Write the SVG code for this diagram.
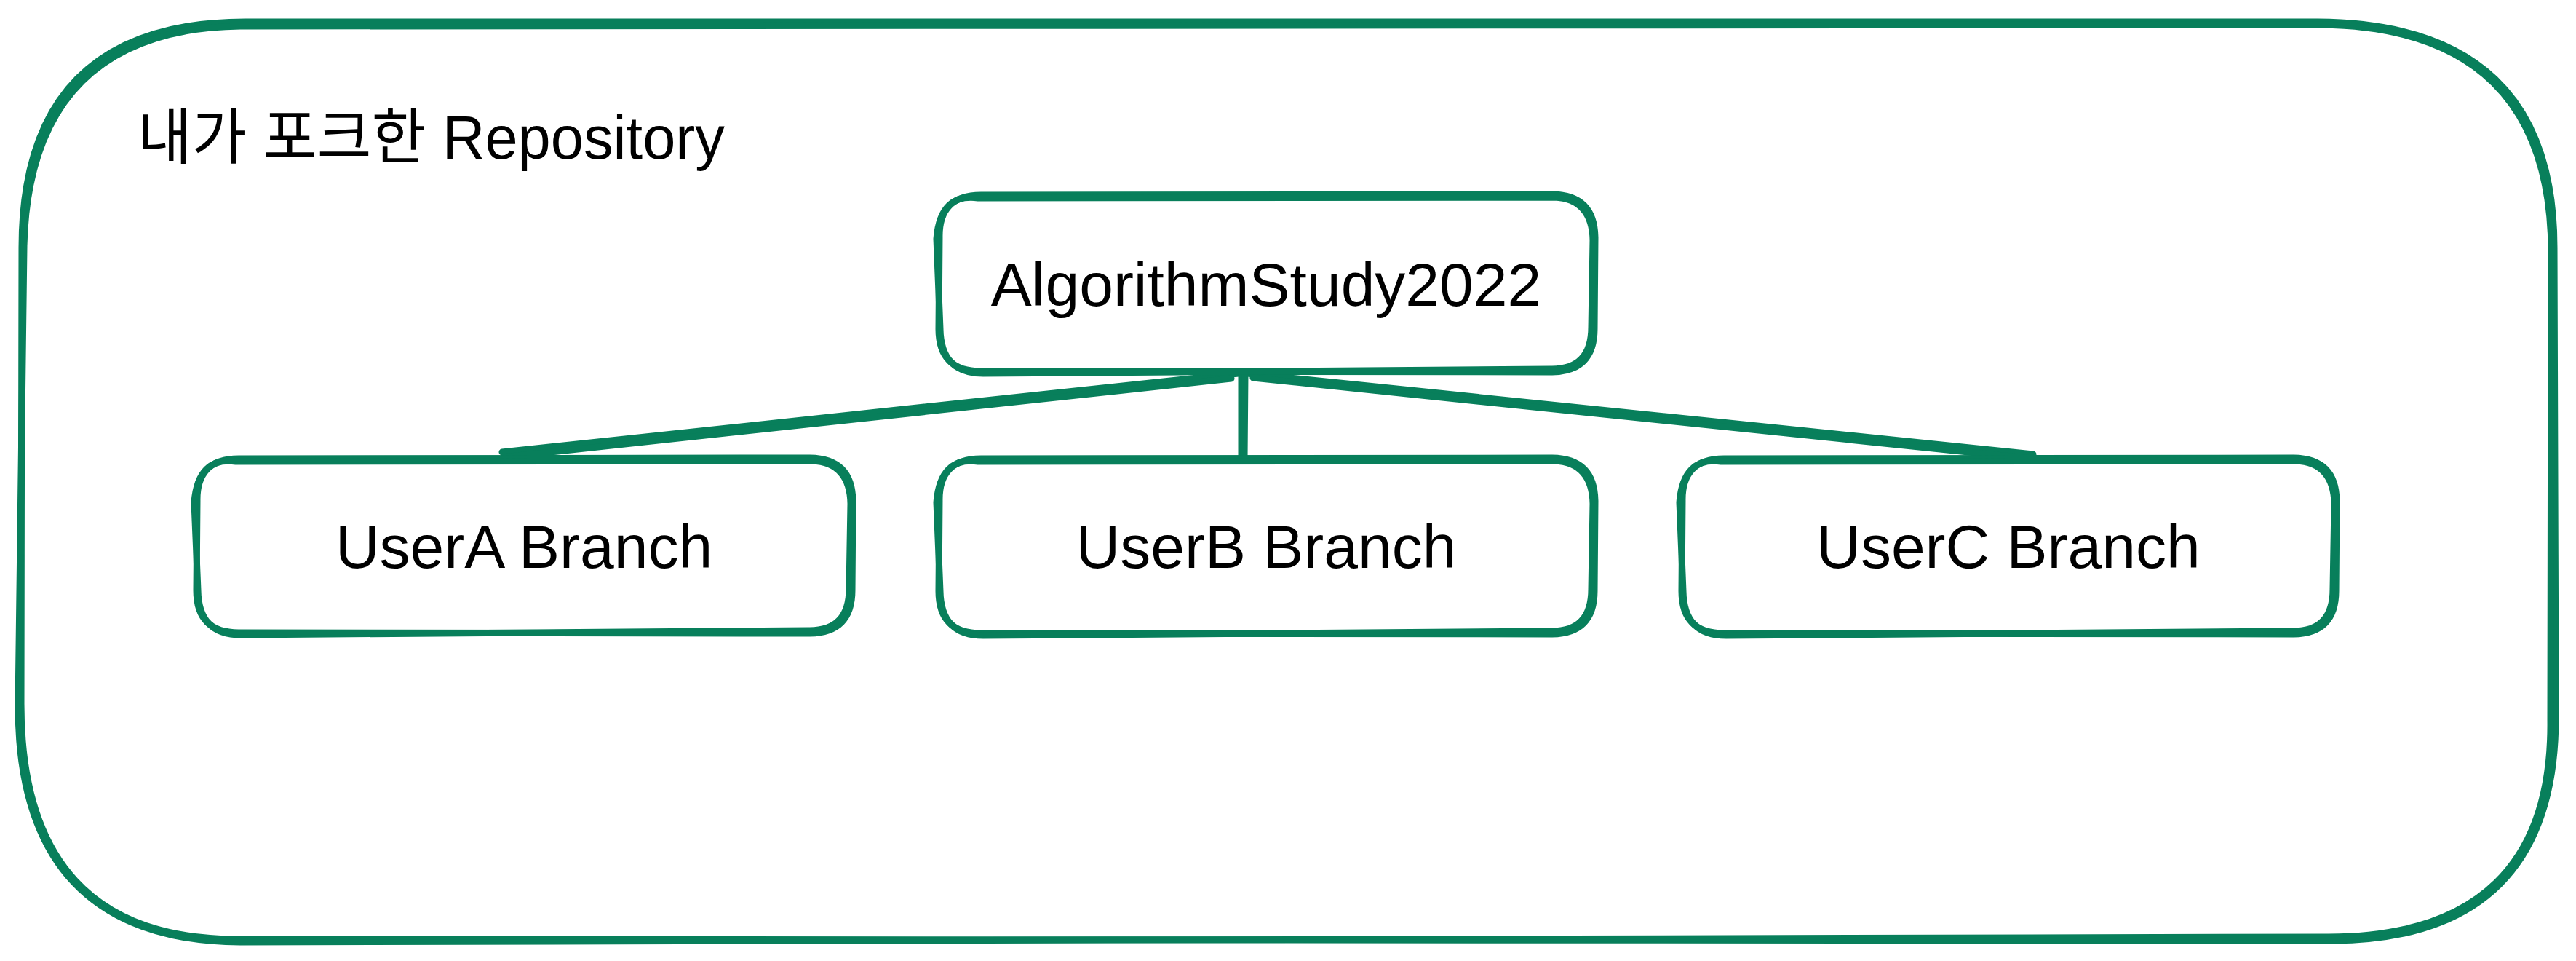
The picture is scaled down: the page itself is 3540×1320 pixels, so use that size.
<svg xmlns="http://www.w3.org/2000/svg" width="3540" height="1320" viewBox="0 0 3540 1320">
<style>
.s{fill:none;stroke:#087f5b;stroke-width:9;stroke-linecap:round;stroke-linejoin:round}
.t{font-family:"Liberation Sans","Noto Sans CJK KR",Arial,sans-serif;font-size:84px;fill:#000}
.c{text-anchor:middle}
</style>
<rect x="0" y="0" width="3540" height="1320" fill="#ffffff"/>
<g id="repo">
<path class="s" d="M 337 30 L 3185 30 Q 3510 32 3510 340 L 3512 985 Q 3512 1290 3206 1292 L 326 1290 Q 29 1290 29 967 L 30 340 Q 30 30 337 30 Z"/>
<path class="s" d="M 330 36 L 3190 34 Q 3505 38 3506 345 L 3505 990 Q 3508 1286 3200 1287 L 330 1294 Q 25 1292 25 970 L 33 338 Q 40 40 330 36 Z"/>
<text class="t" x="189" y="218" textLength="807" lengthAdjust="spacingAndGlyphs">내가 포크한 Repository</text>
</g>
<g id="connectors">
<path class="s" d="M 1702 513 L 690 621"/>
<path class="s" d="M 1692 520 L 692 628"/>
<path class="s" d="M 1706 512 L 1706 632"/>
<path class="s" d="M 1711 512 L 1710 630"/>
<path class="s" d="M 1714 513 L 2794 624"/>
<path class="s" d="M 1722 519 L 2792 630"/>
</g>
<g id="algorithmstudy2022">
<path class="s" d="M 1348 268 L 2133 267 Q 2191 268 2192 326 L 2191 452 Q 2191 510 2133 511 L 1348 510 Q 1290 510 1290 452 L 1291 326 Q 1290 268 1348 268 Z"/>
<path class="s" d="M 1344 272 L 2136 271 Q 2188 273 2189 330 L 2187 449 Q 2187 508 2131 507 L 1351 513 Q 1293 513 1292 452 L 1287 328 Q 1292 265 1344 272 Z"/>
<text class="t c" x="1740" y="420">AlgorithmStudy2022</text>
</g>
<g id="usera">
<path class="s" d="M 328 630 L 1113 629 Q 1171 630 1172 688 L 1171 811 Q 1171 869 1113 870 L 328 869 Q 270 869 270 811 L 271 688 Q 270 630 328 630 Z"/>
<path class="s" d="M 324 634 L 1116 633 Q 1168 635 1169 692 L 1167 808 Q 1167 867 1111 866 L 331 872 Q 273 872 272 811 L 267 690 Q 272 627 324 634 Z"/>
<text class="t c" x="720" y="780">UserA Branch</text>
</g>
<g id="userb">
<path class="s" d="M 1348 630 L 2133 629 Q 2191 630 2192 688 L 2191 812 Q 2191 870 2133 871 L 1348 870 Q 1290 870 1290 812 L 1291 688 Q 1290 630 1348 630 Z"/>
<path class="s" d="M 1344 634 L 2136 633 Q 2188 635 2189 692 L 2187 809 Q 2187 868 2131 867 L 1351 873 Q 1293 873 1292 812 L 1287 690 Q 1292 627 1344 634 Z"/>
<text class="t c" x="1740" y="780">UserB Branch</text>
</g>
<g id="userc">
<path class="s" d="M 2369 630 L 3152 629 Q 3210 630 3211 688 L 3210 812 Q 3210 870 3152 871 L 2369 870 Q 2311 870 2311 812 L 2312 688 Q 2311 630 2369 630 Z"/>
<path class="s" d="M 2365 634 L 3155 633 Q 3207 635 3208 692 L 3206 809 Q 3206 868 3150 867 L 2372 873 Q 2314 873 2313 812 L 2308 690 Q 2313 627 2365 634 Z"/>
<text class="t c" x="2760" y="780">UserC Branch</text>
</g>
</svg>
